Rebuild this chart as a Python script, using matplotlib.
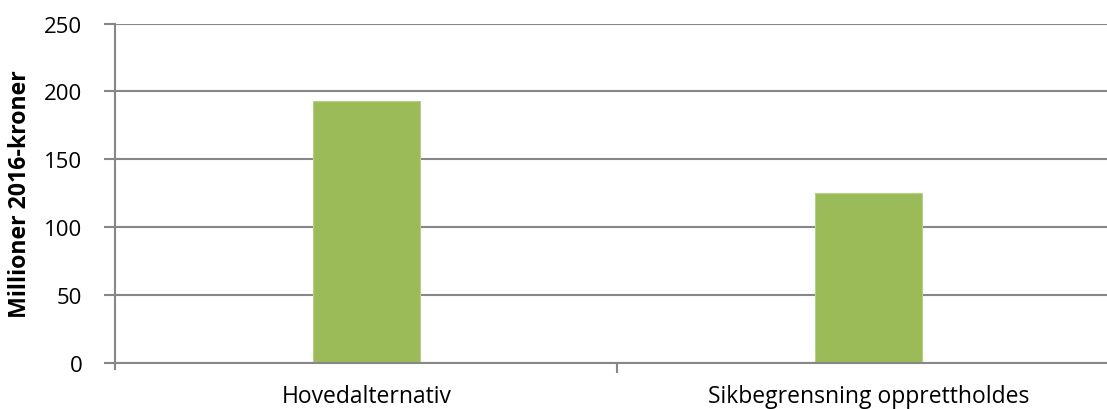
# Column chart: cost per alternative, millions of 2016 NOK

import numpy as np
import matplotlib.pyplot as plt

categories = ['Hovedalternativ', 'Sikbegrensning opprettholdes']
values = [193.0, 125.0]
yticks = [0, 50, 100, 150, 200, 250]

plt.rcParams['font.family'] = ['Open Sans', 'DejaVu Sans']

fig = plt.figure(figsize=(11.07, 4.10), dpi=100)
ax = fig.add_axes([0.1043, 0.1129, 0.907, 0.8273])

x = np.arange(len(categories))
ax.bar(x, values, width=0.2125, color='#9BBB59', edgecolor='#B5CF85',
       linewidth=0.8, zorder=3)

ax.set_xlim(-0.5, len(categories) - 0.5)
ax.set_ylim(0, 250)
ax.set_yticks(yticks)
ax.set_xticks(x)
ax.set_xticklabels(categories, fontsize=16.5)
ax.set_xticks([0.5], minor=True)

grid_col = '#878787'
ax.grid(axis='y', color=grid_col, linewidth=1.5, zorder=0)
for s in ['top', 'right']:
    ax.spines[s].set_visible(False)
for s in ['left', 'bottom']:
    ax.spines[s].set_color(grid_col)
    ax.spines[s].set_linewidth(1.5)
ax.spines['bottom'].set_zorder(4)

ax.tick_params(axis='y', length=8, width=1.5, color=grid_col, labelsize=16, pad=16)
ax.tick_params(axis='x', which='major', length=0, pad=15)
ax.tick_params(axis='x', which='minor', length=7, width=1.5, color=grid_col)
# left end of the category axis also gets a tick
ax.plot([-0.5, -0.5], [0, -0.02], transform=ax.get_xaxis_transform(),
        color=grid_col, lw=1.5, clip_on=False)

ax.set_ylabel('Millioner 2016-kroner', fontsize=16.7, fontweight='bold')
ax.yaxis.set_label_coords(-0.0835, 0.5)

fig.savefig('out.png', dpi=100)
